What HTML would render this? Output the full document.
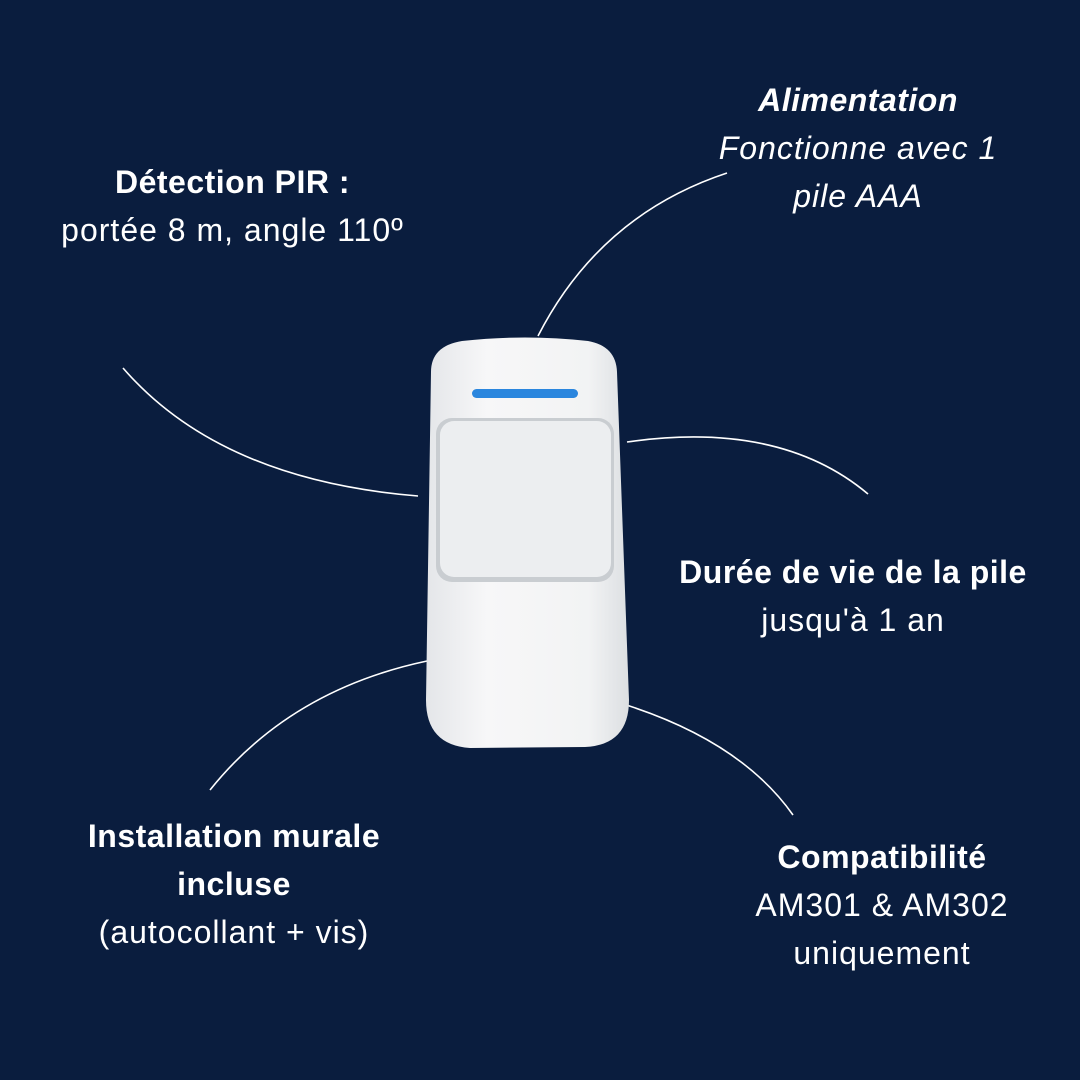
<!DOCTYPE html>
<html><head><meta charset="utf-8"><style>
body{margin:0;width:1080px;height:1080px;background:#0a1d3e;overflow:hidden;position:relative;font-family:"Liberation Sans",sans-serif;color:#fff}
.t{position:absolute;text-align:center;font-size:32px;letter-spacing:1px;line-height:48px;white-space:nowrap}
b{font-weight:bold;letter-spacing:0.5px}
</style></head><body>
<svg width="1080" height="1080" style="position:absolute;left:0;top:0">
<defs>
<linearGradient id="g" x1="0" x2="1"><stop offset="0" stop-color="#e4e6e9"/><stop offset=".3" stop-color="#f7f7f8"/><stop offset=".8" stop-color="#f2f3f4"/><stop offset="1" stop-color="#dcdfe2"/></linearGradient>
</defs>
<g fill="none" stroke="#fff" stroke-width="1.6">
<path d="M538 336 Q600 215 727 173"/>
<path d="M123 368 Q220 480 418 496"/>
<path d="M627 442 Q780 420 868 494"/>
<path d="M427 661 Q290 690 210 790"/>
<path d="M620 703 Q740 740 793 815"/>
</g>
<path d="M431 372 Q431 346 462 341 Q525 334 588 341 Q616 346 617 372 L629 700 Q629 745 585 747 L470 748 Q426 745 426 700 Z" fill="url(#g)"/>
<rect x="436" y="418" width="178" height="164" rx="16" fill="#c9cdd1"/>
<rect x="440" y="421" width="171" height="156" rx="14" fill="#eceef0"/>
<rect x="472" y="389" width="106" height="9" rx="4.5" fill="#2a86de"/>
</svg>
<div class="t" style="left:0;width:465px;top:158px"><b>Détection PIR :</b><br>portée 8 m, angle 110º</div>
<div class="t" style="left:658px;width:400px;top:76px"><b><i>Alimentation</i></b><br><i>Fonctionne avec 1<br>pile AAA</i></div>
<div class="t" style="left:653px;width:400px;top:548px"><b>Durée de vie de la pile</b><br>jusqu'à 1 an</div>
<div class="t" style="left:34px;width:400px;top:812px"><b>Installation murale<br>incluse</b><br>(autocollant + vis)</div>
<div class="t" style="left:682px;width:400px;top:833px"><b>Compatibilité</b><br>AM301 &amp; AM302<br>uniquement</div>
</body></html>
